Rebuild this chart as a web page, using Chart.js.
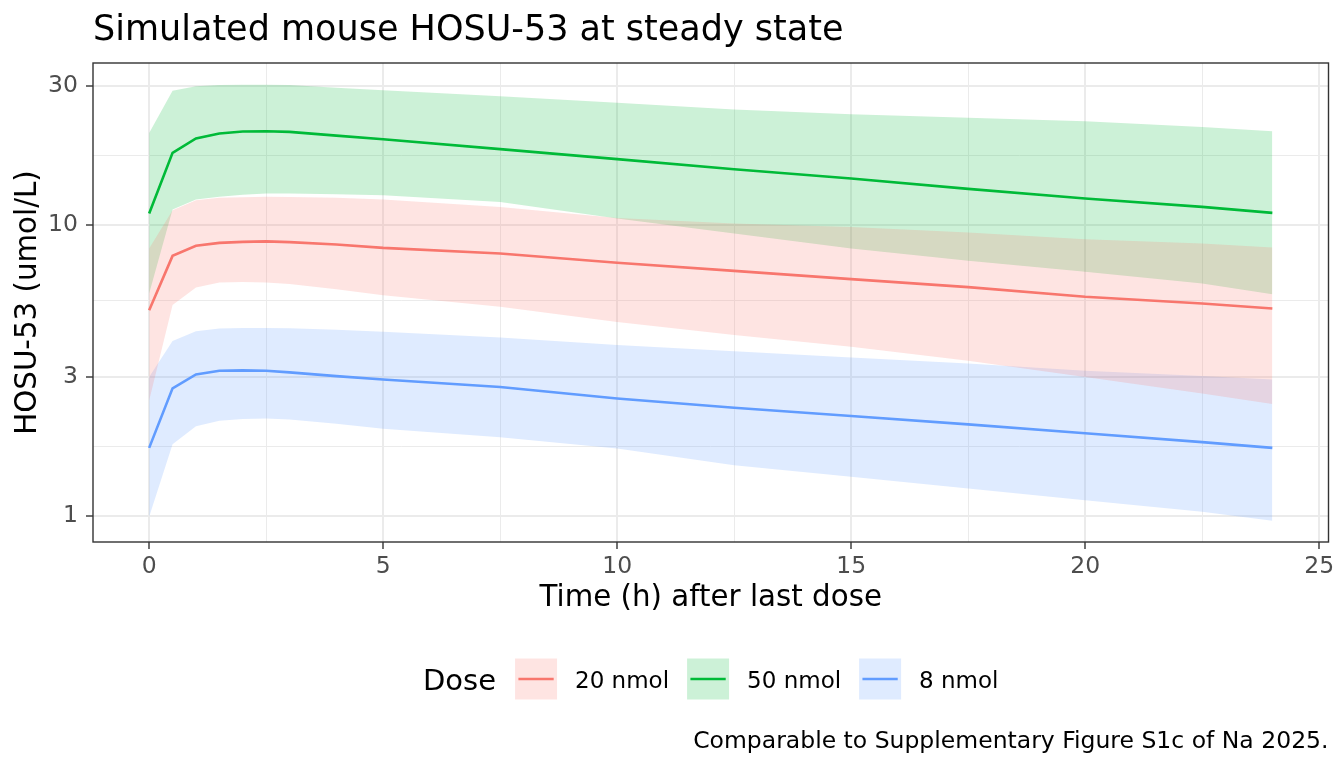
<!DOCTYPE html>
<html>
<head>
<meta charset="utf-8">
<title>Simulated mouse HOSU-53 at steady state</title>
<script src="https://cdn.jsdelivr.net/npm/chart.js@4.4.1/dist/chart.umd.min.js"></script>
<style>
    html, body { margin: 0; padding: 0; background: #ffffff; }
    #wrap { width: 1344px; height: 768px; }
</style>
</head>
<body>
<div id="wrap"><canvas id="myChart" width="1344" height="768"></canvas></div>
<script>
// time after last dose (h)
let timeH = [0, 0.5, 1, 1.5, 2, 2.5, 3, 4, 5, 7.5, 10, 12.5, 15, 17.5, 20, 22.5, 24];

let doseLabels = ["20 nmol", "50 nmol", "8 nmol"];

// concentrations (umol/L): median and band limits per dose
let median20 = [5.09, 7.83, 8.48, 8.68, 8.75, 8.78, 8.73, 8.57, 8.34, 7.98, 7.41, 6.95, 6.51, 6.11, 5.66, 5.37, 5.16];
let lower20 = [2.49, 5.30, 6.09, 6.34, 6.36, 6.34, 6.26, 6.01, 5.73, 5.23, 4.64, 4.18, 3.81, 3.41, 3.00, 2.63, 2.42];
let upper20 = [8.30, 11.24, 12.17, 12.40, 12.46, 12.50, 12.48, 12.40, 12.24, 11.54, 10.58, 10.12, 9.85, 9.42, 8.94, 8.64, 8.37];

let median50 = [10.95, 17.71, 19.85, 20.65, 20.98, 21.03, 20.92, 20.30, 19.74, 18.24, 16.85, 15.56, 14.45, 13.31, 12.34, 11.54, 11.01];
let lower50 = [5.81, 11.31, 12.24, 12.50, 12.70, 12.84, 12.84, 12.76, 12.67, 12.01, 10.53, 9.35, 8.30, 7.54, 6.90, 6.29, 5.78];
let upper50 = [20.75, 28.95, 30.05, 30.30, 30.40, 30.40, 30.30, 29.70, 29.10, 27.76, 26.33, 24.98, 24.07, 23.41, 22.77, 21.76, 21.03];

let median8 = [1.71, 2.74, 3.06, 3.15, 3.16, 3.15, 3.11, 3.02, 2.94, 2.77, 2.53, 2.35, 2.20, 2.06, 1.92, 1.79, 1.71];
let lower8 = [0.99, 1.76, 2.03, 2.12, 2.15, 2.16, 2.14, 2.07, 1.99, 1.86, 1.70, 1.49, 1.36, 1.24, 1.13, 1.03, 0.96];
let upper8 = [3.00, 3.99, 4.31, 4.40, 4.42, 4.42, 4.41, 4.36, 4.29, 4.10, 3.86, 3.68, 3.50, 3.34, 3.15, 3.02, 2.94];

// tick labels / grid
let xMajorTicks = [0, 5, 10, 15, 20, 25];
let xMinorTicks = [2.5, 7.5, 12.5, 17.5, 22.5];
let yMajorTicks = [1, 3, 10, 30];
let yMinorTicks = [1.732, 5.477, 17.32];

let lineColors = ["#F8766D", "#00BA38", "#619CFF"];
let ribbonColors = ["rgba(248, 118, 109, 0.2)", "rgba(0, 186, 56, 0.2)", "rgba(97, 156, 255, 0.2)"];

let medians = [median20, median50, median8];
let lowers = [lower20, lower50, lower8];
let uppers = [upper20, upper50, upper8];

function toPoints(values) {
    return timeH.map((t, i) => ({ x: t, y: values[i] }));
}

let datasets = [];

// ribbons first (lower edge, then upper edge filled down to it)
for (let i = 0; i < doseLabels.length; i++) {
    datasets.push({
        label: doseLabels[i] + " lower",
        data: toPoints(lowers[i]),
        borderWidth: 0,
        borderColor: "rgba(0,0,0,0)",
        pointRadius: 0,
        fill: false,
        order: 1,
    });
    datasets.push({
        label: doseLabels[i] + " upper",
        data: toPoints(uppers[i]),
        borderWidth: 0,
        borderColor: "rgba(0,0,0,0)",
        backgroundColor: ribbonColors[i],
        pointRadius: 0,
        fill: "-1",
        order: 1,
    });
}

// median lines on top
for (let i = 0; i < doseLabels.length; i++) {
    datasets.push({
        label: doseLabels[i],
        data: toPoints(medians[i]),
        borderColor: lineColors[i],
        borderWidth: 2.6,
        pointRadius: 0,
        tension: 0,
        fill: false,
        order: 0,
    });
}

function isMajor(list, c) {
    return c.tick && list.includes(c.tick.value);
}

// panel border, legend and caption
let panelAndLegend = {
    id: "panelAndLegend",
    afterDraw(chart) {
        let ctx = chart.ctx;
        let area = chart.chartArea;
        ctx.save();

        ctx.strokeStyle = "#333333";
        ctx.lineWidth = 1.4;
        ctx.strokeRect(area.left, area.top, area.right - area.left, area.bottom - area.top);

        // legend, centred under the panel
        let keyW = 42, keyH = 41, gapKey = 18, gapItem = 18, gapTitle = 19;
        ctx.font = "29px 'DejaVu Sans'";
        let titleW = ctx.measureText("Dose").width;
        ctx.font = "23px 'DejaVu Sans'";
        let labelW = doseLabels.map(l => ctx.measureText(l).width);
        let total = titleW + gapTitle;
        labelW.forEach((w, i) => {
            total += keyW + gapKey + w + (i < labelW.length - 1 ? gapItem : 0);
        });
        let x = (area.left + area.right) / 2 - total / 2;
        let midY = 679;

        ctx.fillStyle = "#000000";
        ctx.textAlign = "left";
        ctx.textBaseline = "alphabetic";
        ctx.font = "29px 'DejaVu Sans'";
        ctx.fillText("Dose", x, 690);
        x += titleW + gapTitle;

        for (let i = 0; i < doseLabels.length; i++) {
            ctx.fillStyle = ribbonColors[i];
            ctx.fillRect(x, midY - keyH / 2, keyW, keyH);
            ctx.strokeStyle = lineColors[i];
            ctx.lineWidth = 2.6;
            ctx.beginPath();
            ctx.moveTo(x + keyW * 0.08, midY);
            ctx.lineTo(x + keyW * 0.92, midY);
            ctx.stroke();
            x += keyW + gapKey;
            ctx.fillStyle = "#000000";
            ctx.font = "23px 'DejaVu Sans'";
            ctx.fillText(doseLabels[i], x, 688);
            x += labelW[i] + gapItem;
        }

        // caption
        ctx.textAlign = "right";
        ctx.font = "23.5px 'DejaVu Sans'";
        ctx.fillStyle = "#000000";
        ctx.fillText("Comparable to Supplementary Figure S1c of Na 2025.", area.right, 748);

        ctx.restore();
    }
};

Chart.defaults.font.family = "'DejaVu Sans', sans-serif";

let ctx = document.getElementById("myChart").getContext("2d");
let myChart = new Chart(ctx, {
    type: "line",
    data: { datasets: datasets },
    options: {
        responsive: false,
        animation: false,
        layout: { padding: { left: 0, right: 15.5, top: 0, bottom: 0 } },
        plugins: {
            legend: { display: false },
            tooltip: { enabled: false },
            title: {
                display: true,
                text: "Simulated mouse HOSU-53 at steady state",
                align: "start",
                fullSize: false,
                color: "#000000",
                font: { size: 35, weight: "normal" },
                padding: { top: 10, bottom: 11 },
            },
        },
        scales: {
            x: {
                type: "linear",
                min: -1.2,
                max: 25.2,
                afterBuildTicks: (scale) => {
                    scale.ticks = xMajorTicks.concat(xMinorTicks).sort((a, b) => a - b).map(v => ({ value: v }));
                },
                afterFit: (scale) => { scale.height = 226; },
                border: { display: false },
                grid: {
                    color: "#EBEBEB",
                    lineWidth: c => isMajor(xMajorTicks, c) ? 2 : 1,
                    tickColor: c => isMajor(xMajorTicks, c) ? "#333333" : "rgba(0,0,0,0)",
                    tickWidth: 1.4,
                    tickLength: 7,
                },
                ticks: {
                    autoSkip: false,
                    maxRotation: 0,
                    color: "#4D4D4D",
                    font: { size: 23.5 },
                    padding: 4,
                    callback: v => xMajorTicks.includes(v) ? String(v) : "",
                },
                title: {
                    display: true,
                    text: "Time (h) after last dose",
                    color: "#000000",
                    font: { size: 29.3 },
                    padding: { top: 0, bottom: 152 },
                },
            },
            y: {
                type: "logarithmic",
                min: 0.811,
                max: 36.1,
                afterBuildTicks: (scale) => {
                    scale.ticks = yMajorTicks.concat(yMinorTicks).sort((a, b) => a - b).map(v => ({ value: v }));
                },
                afterFit: (scale) => { scale.width = 93; },
                border: { display: false },
                grid: {
                    color: "#EBEBEB",
                    lineWidth: c => isMajor(yMajorTicks, c) ? 2 : 1,
                    tickColor: c => isMajor(yMajorTicks, c) ? "#333333" : "rgba(0,0,0,0)",
                    tickWidth: 1.4,
                    tickLength: 7,
                },
                ticks: {
                    autoSkip: false,
                    color: "#4D4D4D",
                    font: { size: 23.5 },
                    padding: 8,
                    callback: v => yMajorTicks.includes(v) ? String(v) : "",
                },
                title: {
                    display: true,
                    text: "HOSU-53 (umol/L)",
                    color: "#000000",
                    font: { size: 29.3 },
                    padding: { top: 10.6, bottom: 0 },
                },
            },
        },
    },
    plugins: [panelAndLegend],
});
</script>
</body>
</html>
